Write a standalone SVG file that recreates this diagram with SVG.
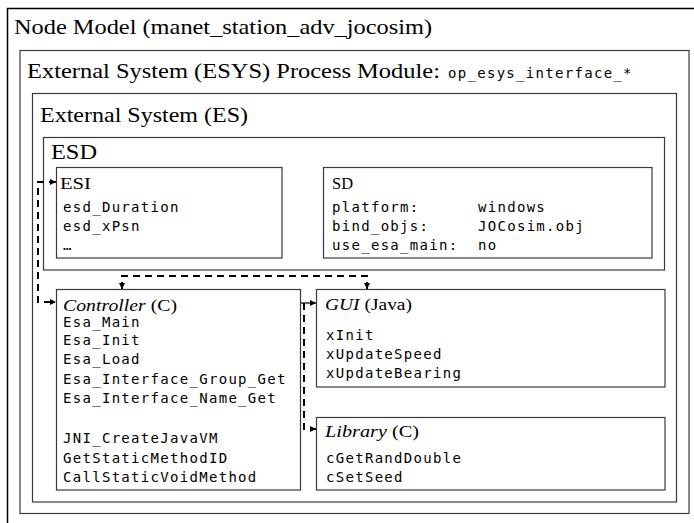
<svg xmlns="http://www.w3.org/2000/svg" width="694" height="523" viewBox="0 0 694 523">
<style>
.box{fill:none;stroke:#3a3a3a;stroke-width:1.2}
.outer{fill:none;stroke:#000;stroke-width:1.5}
.h1{font-family:"Liberation Serif",serif;font-size:22px;fill:#000}
.h2{font-family:"Liberation Serif",serif;font-size:17px;fill:#000}
.it{font-style:italic}
.m{font-family:"DejaVu Sans Mono","Liberation Mono",monospace;font-size:14px;letter-spacing:1.3px;fill:#000}
.con{fill:none;stroke:#000;stroke-width:2;stroke-dasharray:7,5}
.con2{fill:none;stroke:#000;stroke-width:1.2}
</style>
<defs>
<marker id="ah" markerUnits="userSpaceOnUse" markerWidth="8" markerHeight="8" refX="6" refY="4" orient="auto-start-reverse">
<path d="M0,1 L6,4 L0,7 Z" fill="#000"/>
</marker>
</defs>
<rect width="694" height="523" fill="#fff"/>
<g id="node-model">
<rect class="outer" x="7.5" y="8.5" width="700" height="530"/>
<text class="h1" x="14" y="34" textLength="418" lengthAdjust="spacingAndGlyphs">Node Model (manet_station_adv_jocosim)</text>
</g>
<g id="esys">
<rect class="box" x="20" y="50.5" width="669" height="463"/>
<text class="h1" x="27" y="78" textLength="413" lengthAdjust="spacingAndGlyphs">External System (ESYS) Process Module:</text>
<text class="m" x="448" y="78">op_esys_interface_*</text>
</g>
<g id="es">
<rect class="box" x="32.5" y="93.5" width="644" height="408.5"/>
<text class="h1" x="40" y="122" textLength="208" lengthAdjust="spacingAndGlyphs">External System (ES)</text>
</g>
<g id="esd">
<rect class="box" x="43.5" y="137.5" width="621" height="132.5"/>
<text class="h1" x="51" y="159" textLength="46" lengthAdjust="spacingAndGlyphs">ESD</text>
</g>
<g id="esi">
<rect class="box" x="56.5" y="167.5" width="225.5" height="90.5"/>
<text class="h2" x="60" y="189" textLength="31" lengthAdjust="spacingAndGlyphs">ESI</text>
<text class="m" x="63" y="212">esd_Duration</text>
<text class="m" x="63" y="231">esd_xPsn</text>
<text class="m" x="63" y="250">…</text>
</g>
<g id="sd">
<rect class="box" x="323.5" y="167.5" width="328.5" height="90.5"/>
<text class="h2" x="332" y="189" textLength="21" lengthAdjust="spacingAndGlyphs">SD</text>
<text class="m" x="332" y="212">platform:</text>
<text class="m" x="478" y="212">windows</text>
<text class="m" x="332" y="231">bind_objs:</text>
<text class="m" x="478" y="231">JOCosim.obj</text>
<text class="m" x="332" y="250">use_esa_main:</text>
<text class="m" x="478" y="250">no</text>
</g>
<g id="controller">
<rect class="box" x="56.5" y="289.5" width="244" height="200.5"/>
<text class="h2" x="63" y="310.5" textLength="114" lengthAdjust="spacingAndGlyphs"><tspan class="it">Controller</tspan> (C)</text>
<text class="m" x="63" y="327">Esa_Main</text>
<text class="m" x="63" y="345">Esa_Init</text>
<text class="m" x="63" y="364">Esa_Load</text>
<text class="m" x="63" y="384">Esa_Interface_Group_Get</text>
<text class="m" x="63" y="403">Esa_Interface_Name_Get</text>
<text class="m" x="63" y="443">JNI_CreateJavaVM</text>
<text class="m" x="63" y="463">GetStaticMethodID</text>
<text class="m" x="63" y="482">CallStaticVoidMethod</text>
</g>
<g id="gui">
<rect class="box" x="316.5" y="289.5" width="348.5" height="97.5"/>
<text class="h2" x="325" y="310" textLength="87" lengthAdjust="spacingAndGlyphs"><tspan class="it">GUI</tspan> (Java)</text>
<text class="m" x="326" y="340">xInit</text>
<text class="m" x="326" y="359">xUpdateSpeed</text>
<text class="m" x="326" y="378">xUpdateBearing</text>
</g>
<g id="library">
<rect class="box" x="316.5" y="417.5" width="348.5" height="72.5"/>
<text class="h2" x="325" y="437" textLength="94" lengthAdjust="spacingAndGlyphs"><tspan class="it">Library</tspan> (C)</text>
<text class="m" x="326" y="463">cGetRandDouble</text>
<text class="m" x="326" y="482">cSetSeed</text>
</g>
<g id="connectors">
<path class="con" d="M56,182 H38 V302 H56" marker-start="url(#ah)" marker-end="url(#ah)"/>
<path class="con" d="M122,289 V276 H367 V289" marker-start="url(#ah)" marker-end="url(#ah)"/>
<path class="con2" d="M301,303 H316" marker-end="url(#ah)"/>
<path class="con" d="M304,303 V429 H316" marker-end="url(#ah)"/>
</g>
</svg>
